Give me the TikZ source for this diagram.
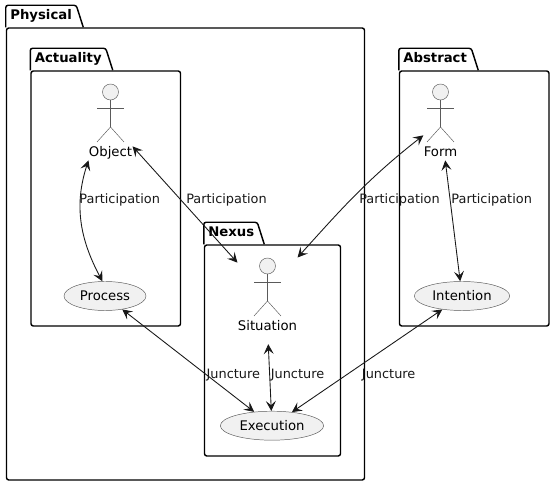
\documentclass[tikz,border=0pt]{standalone}
\usepackage{fontspec}
\setmainfont{DejaVu Sans}
\usepackage{xcolor}
\usepackage{tikz}
\usetikzlibrary{
    arrows.meta,
    positioning,
    fit,
    shapes.geometric
}
\definecolor{inkdark}{HTML}{181818}
\definecolor{actorgray}{HTML}{5A5A5A}
\definecolor{usefill}{HTML}{F1F1F1}

\begin{document}
\begin{tikzpicture}[
        font=\fontsize{11.3}{14}\selectfont,
        frame/.style={
            draw=black,
            line width=1.25pt,
            rounded corners=0.07cm
        },
        frametitle/.style={
            font=\fontsize{11.3}{14}\selectfont\bfseries,
            inner sep=0pt,
            anchor=base west
        },
        actorhead/.style={
            circle,
            draw=actorgray,
            fill=usefill,
            line width=0.4pt,
            minimum size=0.48cm,
            inner sep=0pt
        },
        actorline/.style={
            draw=actorgray,
            line width=0.4pt
        },
        actorname/.style={
            inner sep=0pt,
            text height=8pt,
            text depth=2.5pt,
            anchor=base
        },
        actorbox/.style={
            inner sep=0pt
        },
        usecase/.style={
            ellipse,
            draw=actorgray,
            fill=usefill,
            line width=0.4pt,
            minimum height=0.87cm,
            inner sep=0pt
        },
        link/.style={
            draw=inkdark,
            line width=0.75pt,
            {Stealth[length=8.5pt,width=8.5pt,inset=3.5pt]}-{Stealth[length=8.5pt,width=8.5pt,inset=3.5pt]}
        },
        linklabel/.style={
            text=inkdark,
            font=\fontsize{11}{14}\selectfont,
            inner sep=0pt
        }
    ]
    \useasboundingbox (0,0) rectangle (16.65,14.58);

    % packages
    \foreach \name/\cx/\cy/\boxw/\boxh/\tabw in {
        Physical/5.565/6.96/10.74/13.56/2.325,
        Actuality/3.1725/8.625/4.485/7.65/2.475,
        Nexus/8.175/4.065/4.08/6.33/1.815,
        Abstract/14.2275/8.625/4.485/7.65/2.385
    }{
        \node[frame, minimum width=\boxw cm, minimum height=\boxh cm, inner sep=0pt] (\name) at (\cx,\cy) {};
        \draw[frame] (\name.north west) -- ++(0,0.66) -- ++(\tabw-0.21,0) -- ([xshift=\tabw cm]\name.north west);
        \node[frametitle] (\name-title) at ([xshift=0.13cm,yshift=0.22cm]\name.north west) {\name};
    }

    % actors
    \foreach \name/\cx/\by in {
        Object/3.315/9.87,
        Form/13.215/9.87,
        Situation/8.025/4.65
    }{
        \node[actorname] (\name) at (\cx,\by) {\name};
        \node[actorhead] (\name-head) at (\cx,\by+1.95) {};
        \node[actorbox, fit=(\name)(\name-head)] (\name-box) {};
        \draw[actorline] (\name-head.south) -- (\cx,\by+0.9);
        \draw[actorline] (\cx-0.405,\by+1.47) -- (\cx+0.405,\by+1.47);
        \draw[actorline] (\cx-0.405,\by+0.45) -- (\cx,\by+0.9) -- (\cx+0.405,\by+0.45);
    }

    % use cases
    \node[usecase, minimum width=2.46cm] (Process) at (3.15,5.7) {Process};
    \node[usecase, minimum width=3.1cm] (Execution) at (8.16,1.809) {Execution};
    \node[usecase, minimum width=2.86cm] (Intention) at (13.86,5.7) {Intention};

    % connectors
    \draw[link] (Object-box.south west) to[out=-108,in=118] (Process.100);
    \draw[link] (Object-box) -- (Situation-box);
    \draw[link] (Form-box.218) to[out=218,in=48] (Situation-box.north east);
    \draw[link] (Form-box) -- (Intention);
    \draw[link] (Process) -- (Execution);
    \draw[link, shorten <=0.3cm] (Situation) -- (Execution);
    \draw[link] (Intention) -- (Execution);

    % labels
    \node[linklabel] (lblA) at (3.59,8.58) {Participation};
    \node[linklabel] (lblB) at (6.795,8.58) {Participation};
    \node[linklabel] (lblC) at (11.985,8.58) {Participation};
    \node[linklabel] (lblD) at (14.75,8.58) {Participation};
    \node[linklabel] (lblE) at (7.0,3.32) {Juncture};
    \node[linklabel] (lblF) at (8.925,3.32) {Juncture};
    \node[linklabel] (lblG) at (11.66,3.32) {Juncture};

\end{tikzpicture}
\end{document}
